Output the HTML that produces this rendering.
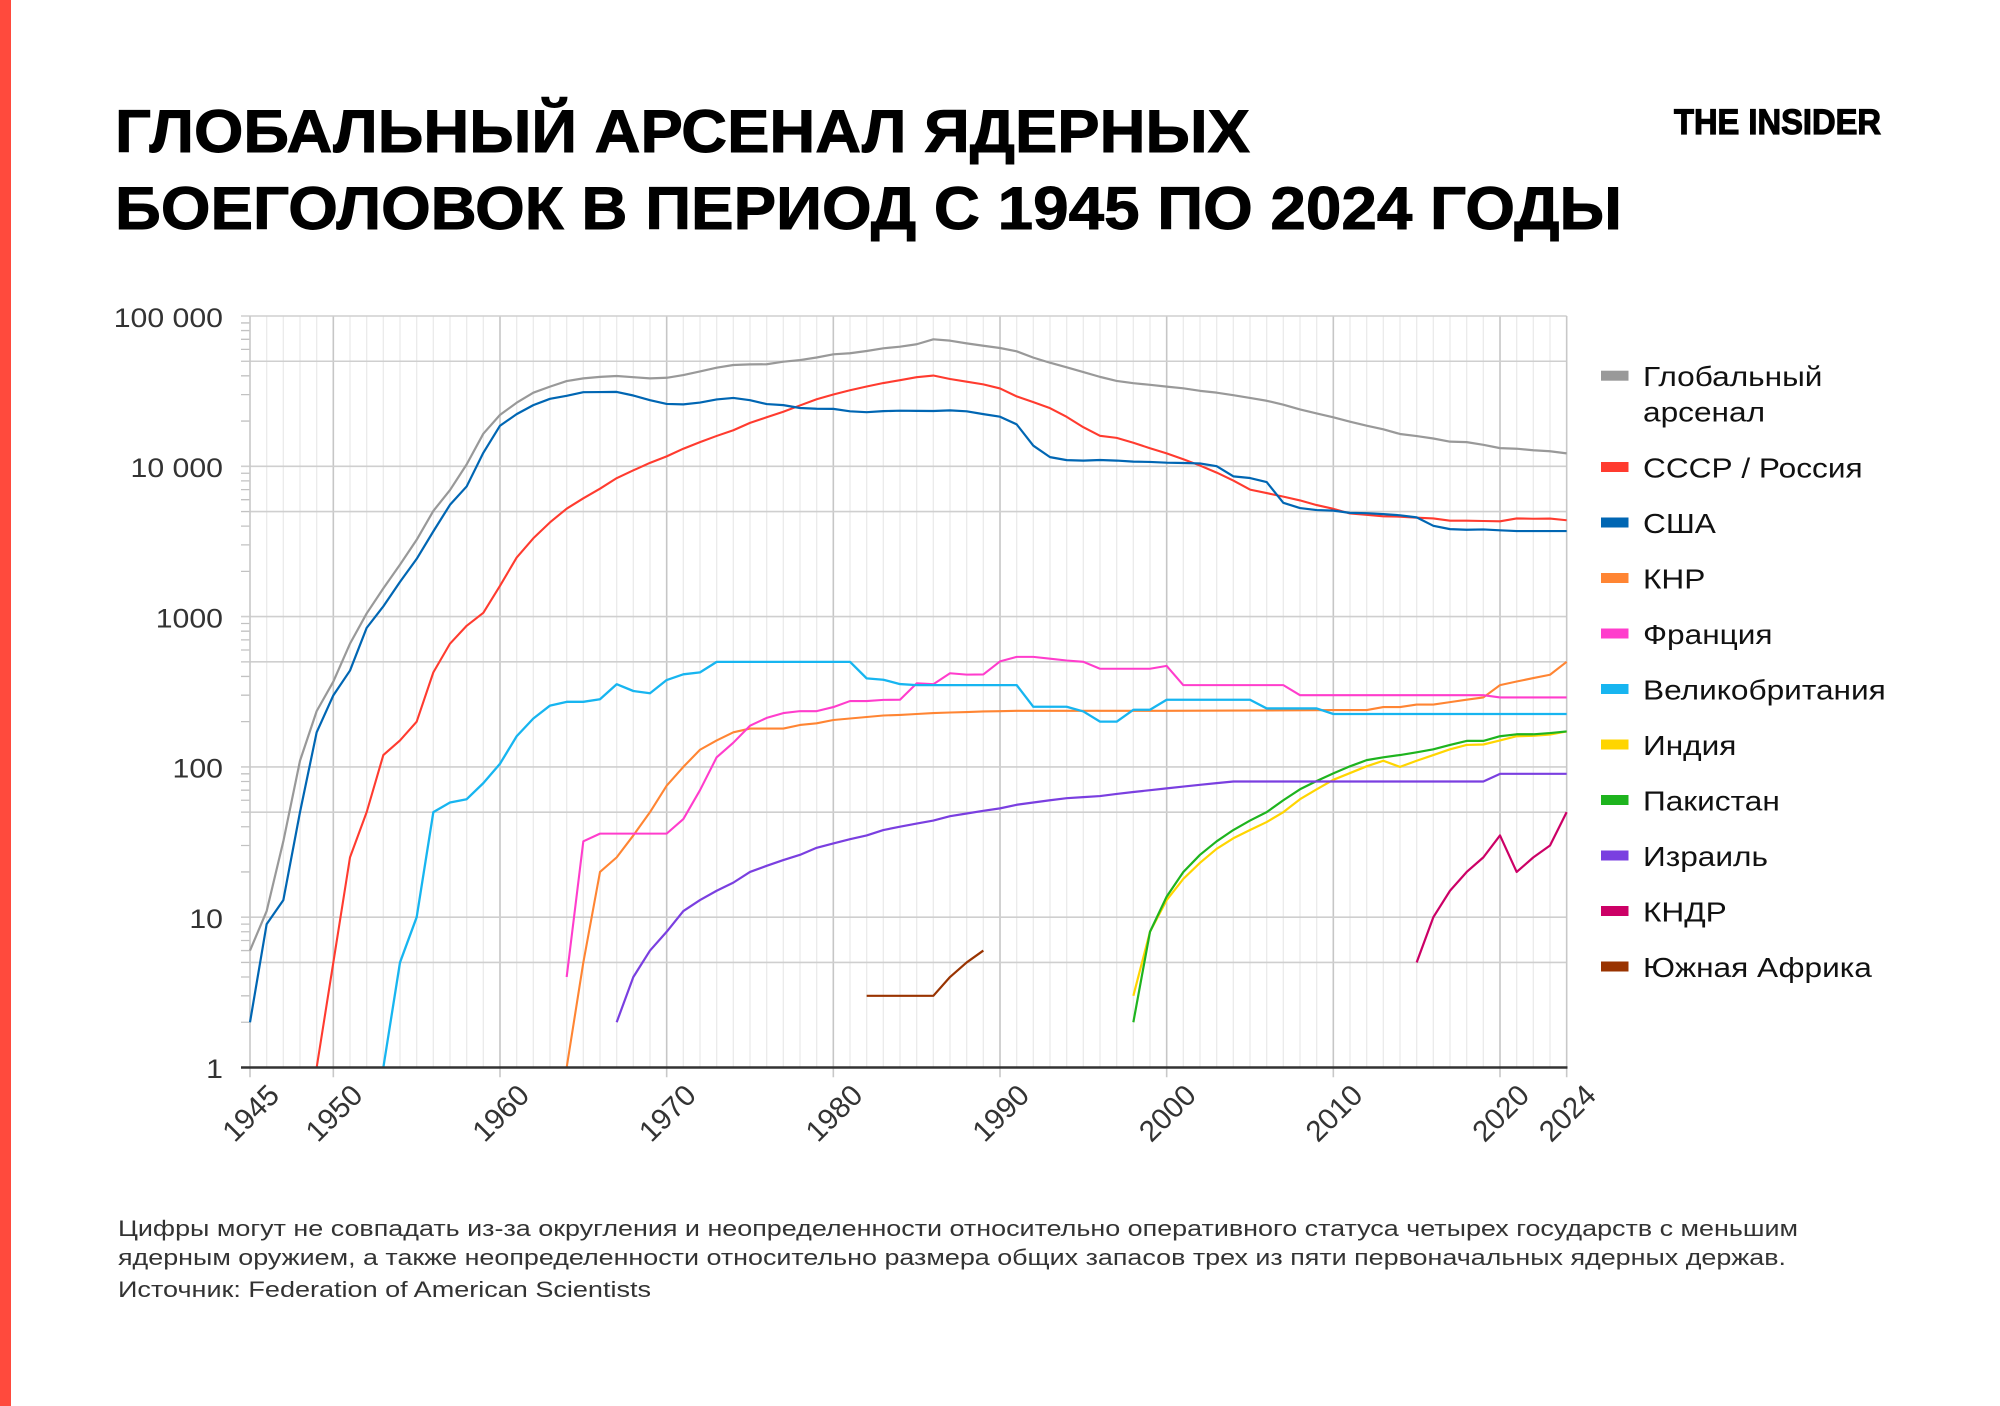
<!DOCTYPE html>
<html><head><meta charset="utf-8">
<style>
html,body{margin:0;padding:0;background:#fff;}
svg{display:block;}
.p path,.p polyline{vector-effect:non-scaling-stroke;fill:none;stroke-linejoin:round;stroke-linecap:butt;}
text{font-family:"Liberation Sans",Arial,sans-serif;}
</style></head>
<body>
<svg width="2000" height="1406" viewBox="0 0 2000 1406" xmlns="http://www.w3.org/2000/svg">
<rect x="0" y="0" width="2000" height="1406" fill="#ffffff"/>
<rect x="0" y="0" width="11" height="1406" fill="#ff4a3d"/>

<!-- Title -->
<text x="115" y="152" font-size="60" font-weight="bold" fill="#000" stroke="#000" stroke-width="0.9" textLength="1135" lengthAdjust="spacingAndGlyphs">ГЛОБАЛЬНЫЙ АРСЕНАЛ ЯДЕРНЫХ</text>
<text x="115" y="229" font-size="60" font-weight="bold" fill="#000" stroke="#000" stroke-width="0.9" textLength="1507" lengthAdjust="spacingAndGlyphs">БОЕГОЛОВОК В ПЕРИОД С 1945 ПО 2024 ГОДЫ</text>

<!-- Logo -->
<text x="1674" y="134" font-size="35" font-weight="bold" fill="#000" stroke="#000" stroke-width="1.2" textLength="207" lengthAdjust="spacingAndGlyphs">THE INSIDER</text>

<!-- Plot -->
<g class="p" transform="translate(250 1067.5) scale(16.6667 -150.3)">
  <path stroke="#ebebeb" stroke-width="1.3" d="M1 0V5M2 0V5M3 0V5M4 0V5M6 0V5M7 0V5M8 0V5M9 0V5M10 0V5M11 0V5M12 0V5M13 0V5M14 0V5M16 0V5M17 0V5M18 0V5M19 0V5M20 0V5M21 0V5M22 0V5M23 0V5M24 0V5M26 0V5M27 0V5M28 0V5M29 0V5M30 0V5M31 0V5M32 0V5M33 0V5M34 0V5M36 0V5M37 0V5M38 0V5M39 0V5M40 0V5M41 0V5M42 0V5M43 0V5M44 0V5M46 0V5M47 0V5M48 0V5M49 0V5M50 0V5M51 0V5M52 0V5M53 0V5M54 0V5M56 0V5M57 0V5M58 0V5M59 0V5M60 0V5M61 0V5M62 0V5M63 0V5M64 0V5M66 0V5M67 0V5M68 0V5M69 0V5M70 0V5M71 0V5M72 0V5M73 0V5M74 0V5M76 0V5M77 0V5M78 0V5"/>
  <path stroke="#c6c6c6" stroke-width="1.6" d="M5 0V5M15 0V5M25 0V5M35 0V5M45 0V5M55 0V5M65 0V5M75 0V5"/>
  <path stroke="#cfcfcf" stroke-width="1.6" d="M-0.54 1H79M-0.54 2H79M-0.54 3H79M-0.54 4H79M-0.54 5H79M0 0.699H79M0 1.699H79M0 2.699H79M0 3.699H79M0 4.699H79"/>
  <path stroke="#c2c2c2" stroke-width="1.3" d="M-0.54 0.301H0M-0.54 0.477H0M-0.54 0.602H0M-0.54 0.699H0M-0.54 0.778H0M-0.54 0.845H0M-0.54 0.903H0M-0.54 0.954H0M-0.54 1.301H0M-0.54 1.477H0M-0.54 1.602H0M-0.54 1.699H0M-0.54 1.778H0M-0.54 1.845H0M-0.54 1.903H0M-0.54 1.954H0M-0.54 2.301H0M-0.54 2.477H0M-0.54 2.602H0M-0.54 2.699H0M-0.54 2.778H0M-0.54 2.845H0M-0.54 2.903H0M-0.54 2.954H0M-0.54 3.301H0M-0.54 3.477H0M-0.54 3.602H0M-0.54 3.699H0M-0.54 3.778H0M-0.54 3.845H0M-0.54 3.903H0M-0.54 3.954H0M-0.54 4.301H0M-0.54 4.477H0M-0.54 4.602H0M-0.54 4.699H0M-0.54 4.778H0M-0.54 4.845H0M-0.54 4.903H0M-0.54 4.954H0"/>
  <path stroke="#c8c8c8" stroke-width="1.6" d="M0 0V5M79 0V5"/>
  <path stroke="#c8c8c8" stroke-width="1.6" d="M0 0V-0.065M5 0V-0.065M15 0V-0.065M25 0V-0.065M35 0V-0.065M45 0V-0.065M55 0V-0.065M65 0V-0.065M75 0V-0.065M79 0V-0.065"/>

  <polyline stroke="#999999" stroke-width="2.2" points="0,0.778 1,1.041 2,1.505 3,2.041 4,2.371 5,2.568 6,2.820 7,3.021 8,3.188 9,3.346 10,3.511 11,3.703 12,3.842 13,4.013 14,4.217 15,4.342 16,4.423 17,4.490 18,4.530 19,4.567 20,4.585 21,4.595 22,4.601 23,4.593 24,4.585 25,4.589 26,4.607 27,4.631 28,4.656 29,4.674 30,4.678 31,4.679 32,4.696 33,4.707 34,4.724 35,4.745 36,4.752 37,4.767 38,4.785 39,4.796 40,4.812 41,4.845 42,4.836 43,4.818 44,4.802 45,4.787 46,4.765 47,4.723 48,4.689 49,4.659 50,4.627 51,4.595 52,4.568 53,4.553 54,4.542 55,4.530 56,4.519 57,4.502 58,4.490 59,4.473 60,4.455 61,4.436 62,4.410 63,4.378 64,4.352 65,4.326 66,4.297 67,4.270 68,4.246 69,4.215 70,4.201 71,4.185 72,4.164 73,4.161 74,4.143 75,4.121 76,4.117 77,4.107 78,4.100 79,4.086"/>
  <polyline stroke="#ff3b2f" stroke-width="2.1" points="4,0 5,0.699 6,1.398 7,1.699 8,2.079 9,2.176 10,2.301 11,2.629 12,2.820 13,2.939 14,3.025 15,3.205 16,3.393 17,3.521 18,3.627 19,3.718 20,3.787 21,3.851 22,3.921 23,3.973 24,4.023 25,4.066 26,4.117 27,4.161 28,4.202 29,4.240 30,4.289 31,4.326 32,4.363 33,4.405 34,4.446 35,4.478 36,4.506 37,4.531 38,4.554 39,4.573 40,4.593 41,4.604 42,4.581 43,4.563 44,4.545 45,4.518 46,4.465 47,4.427 48,4.387 49,4.329 50,4.260 51,4.203 52,4.189 53,4.157 54,4.120 55,4.086 56,4.047 57,4.005 58,3.958 59,3.905 60,3.845 61,3.822 62,3.798 63,3.773 64,3.742 65,3.717 66,3.686 67,3.677 68,3.667 69,3.665 70,3.658 71,3.653 72,3.638 73,3.638 74,3.636 75,3.634 76,3.653 77,3.651 78,3.652 79,3.641"/>
  <polyline stroke="#0066b3" stroke-width="2.2" points="0,0.301 1,0.954 2,1.114 3,1.699 4,2.230 5,2.476 6,2.641 7,2.925 8,3.068 9,3.231 10,3.384 11,3.567 12,3.744 13,3.866 14,4.090 15,4.270 16,4.347 17,4.407 18,4.449 19,4.469 20,4.493 21,4.494 22,4.495 23,4.471 24,4.440 25,4.415 26,4.412 27,4.424 28,4.445 29,4.455 30,4.440 31,4.414 32,4.407 33,4.388 34,4.383 35,4.382 36,4.366 37,4.360 38,4.367 39,4.370 40,4.369 41,4.368 42,4.372 43,4.366 44,4.347 45,4.330 46,4.279 47,4.137 48,4.061 49,4.041 50,4.038 51,4.042 52,4.038 53,4.031 54,4.029 55,4.024 56,4.022 57,4.019 58,4.001 59,3.933 60,3.922 61,3.895 62,3.757 63,3.722 64,3.709 65,3.705 66,3.690 67,3.688 68,3.682 69,3.674 70,3.660 71,3.604 72,3.582 73,3.578 74,3.580 75,3.574 76,3.569 77,3.569 78,3.569 79,3.569"/>
  <polyline stroke="#ff8533" stroke-width="2.1" points="19,0 20,0.699 21,1.301 22,1.398 23,1.544 24,1.699 25,1.875 26,2.0 27,2.114 28,2.176 29,2.230 30,2.255 31,2.255 32,2.255 33,2.279 34,2.290 35,2.312 36,2.322 37,2.332 38,2.342 39,2.346 40,2.352 41,2.358 42,2.362 43,2.365 44,2.369 45,2.371 46,2.373 55,2.373 64,2.377 65,2.378 66,2.378 67,2.378 68,2.398 69,2.398 70,2.415 71,2.415 72,2.431 73,2.447 74,2.462 75,2.544 76,2.568 77,2.591 78,2.613 79,2.699"/>
  <polyline stroke="#ff3dcc" stroke-width="2.1" points="19,0.602 20,1.505 21,1.556 25,1.556 26,1.653 27,1.845 28,2.064 29,2.161 30,2.274 31,2.326 32,2.358 33,2.371 34,2.371 35,2.398 36,2.438 37,2.438 38,2.446 39,2.447 40,2.556 41,2.550 42,2.623 43,2.614 44,2.615 45,2.702 46,2.732 47,2.732 48,2.720 49,2.708 50,2.699 51,2.653 54,2.653 55,2.672 56,2.544 62,2.544 63,2.477 74,2.477 75,2.462 79,2.462"/>
  <polyline stroke="#17b5f0" stroke-width="2.3" points="8,0 9,0.699 10,1.0 11,1.699 12,1.763 13,1.785 14,1.892 15,2.021 16,2.204 17,2.322 18,2.408 19,2.433 20,2.433 21,2.450 22,2.550 23,2.505 24,2.490 25,2.578 26,2.616 27,2.629 28,2.699 36,2.699 37,2.589 38,2.580 39,2.551 40,2.544 46,2.544 47,2.400 49,2.400 50,2.369 51,2.301 52,2.301 53,2.380 54,2.380 55,2.447 60,2.447 61,2.389 64,2.389 65,2.352 79,2.352"/>
  <polyline stroke="#ffd500" stroke-width="2.2" points="53,0.477 54,0.903 55,1.114 56,1.255 57,1.362 58,1.455 59,1.525 60,1.580 61,1.633 62,1.699 63,1.785 64,1.851 65,1.914 66,1.959 67,2.004 68,2.041 69,2.0 70,2.041 71,2.079 72,2.117 73,2.146 74,2.149 75,2.176 76,2.204 77,2.207 78,2.215 79,2.236"/>
  <polyline stroke="#1eb41e" stroke-width="2.2" points="53,0.301 54,0.903 55,1.137 56,1.301 57,1.415 58,1.505 59,1.580 60,1.643 61,1.699 62,1.778 63,1.851 64,1.906 65,1.957 66,2.004 67,2.045 68,2.064 69,2.079 70,2.097 71,2.117 72,2.146 73,2.173 74,2.173 75,2.204 76,2.217 77,2.217 78,2.225 79,2.236"/>
  <polyline stroke="#7a3fe0" stroke-width="2.2" points="22,0.301 23,0.602 24,0.778 25,0.903 26,1.041 27,1.114 28,1.176 29,1.230 30,1.301 31,1.342 32,1.380 33,1.415 34,1.462 35,1.491 36,1.519 37,1.544 38,1.580 39,1.602 40,1.623 41,1.643 42,1.672 43,1.690 44,1.708 45,1.724 46,1.748 47,1.763 48,1.778 49,1.792 50,1.799 51,1.806 52,1.820 53,1.833 54,1.845 55,1.857 56,1.869 57,1.881 58,1.892 59,1.903 74,1.903 75,1.954 79,1.954"/>
  <polyline stroke="#cc0066" stroke-width="2.2" points="70,0.699 71,1.0 72,1.176 73,1.301 74,1.398 75,1.544 76,1.301 77,1.398 78,1.477 79,1.699"/>
  <polyline stroke="#993300" stroke-width="2.2" points="37,0.477 41,0.477 42,0.602 43,0.699 44,0.778"/>
</g>

<line x1="241" y1="1067.5" x2="1567.5" y2="1067.5" stroke="#333333" stroke-width="2.6"/>

<g fill="#333333" font-size="27" transform="translate(223 0) scale(1.12 1)">
  <text x="0" y="326.8" text-anchor="end">100 000</text>
  <text x="0" y="477" text-anchor="end">10 000</text>
  <text x="0" y="627.3" text-anchor="end">1000</text>
  <text x="0" y="777.6" text-anchor="end">100</text>
  <text x="0" y="927.9" text-anchor="end">10</text>
  <text x="0" y="1078" text-anchor="end">1</text>
</g>

<g fill="#333333" font-size="29.5" text-anchor="end">
  <text transform="translate(281 1097) rotate(-45)">1945</text>
  <text transform="translate(364.3 1097) rotate(-45)">1950</text>
  <text transform="translate(531 1097) rotate(-45)">1960</text>
  <text transform="translate(697.7 1097) rotate(-45)">1970</text>
  <text transform="translate(864.3 1097) rotate(-45)">1980</text>
  <text transform="translate(1031 1097) rotate(-45)">1990</text>
  <text transform="translate(1197.7 1097) rotate(-45)">2000</text>
  <text transform="translate(1364.3 1097) rotate(-45)">2010</text>
  <text transform="translate(1531 1097) rotate(-45)">2020</text>
  <text transform="translate(1597.7 1097) rotate(-45)">2024</text>
</g>

<g>
  <rect x="1601" y="370.7" width="27.5" height="10" fill="#999999"/>
  <rect x="1601" y="462" width="27.5" height="10" fill="#ff3b2f"/>
  <rect x="1601" y="517.5" width="27.5" height="10" fill="#0066b3"/>
  <rect x="1601" y="573" width="27.5" height="10" fill="#ff8533"/>
  <rect x="1601" y="628.5" width="27.5" height="10" fill="#ff3dcc"/>
  <rect x="1601" y="684" width="27.5" height="10" fill="#17b5f0"/>
  <rect x="1601" y="739.5" width="27.5" height="10" fill="#ffd500"/>
  <rect x="1601" y="795" width="27.5" height="10" fill="#1eb41e"/>
  <rect x="1601" y="850.5" width="27.5" height="10" fill="#7a3fe0"/>
  <rect x="1601" y="906" width="27.5" height="10" fill="#cc0066"/>
  <rect x="1601" y="961.5" width="27.5" height="10" fill="#993300"/>
</g>
<g fill="#111111" font-size="27.5" transform="translate(1643 0) scale(1.15 1)">
  <text x="0" y="386">Глобальный</text>
  <text x="0" y="421.7">арсенал</text>
  <text x="0" y="477.5">СССР / Россия</text>
  <text x="0" y="533">США</text>
  <text x="0" y="588.5">КНР</text>
  <text x="0" y="644">Франция</text>
  <text x="0" y="699.5">Великобритания</text>
  <text x="0" y="755">Индия</text>
  <text x="0" y="810.5">Пакистан</text>
  <text x="0" y="866">Израиль</text>
  <text x="0" y="921.5">КНДР</text>
  <text x="0" y="977">Южная Африка</text>
</g>

<g fill="#333333" font-size="22.5">
  <text x="118" y="1236" textLength="1680" lengthAdjust="spacingAndGlyphs">Цифры могут не совпадать из-за округления и неопределенности относительно оперативного статуса четырех государств с меньшим</text>
  <text x="118" y="1265" textLength="1668" lengthAdjust="spacingAndGlyphs">ядерным оружием, а также неопределенности относительно размера общих запасов трех из пяти первоначальных ядерных держав.</text>
  <text x="118" y="1297" textLength="533" lengthAdjust="spacingAndGlyphs">Источник: Federation of American Scientists</text>
</g>
</svg>
</body></html>
